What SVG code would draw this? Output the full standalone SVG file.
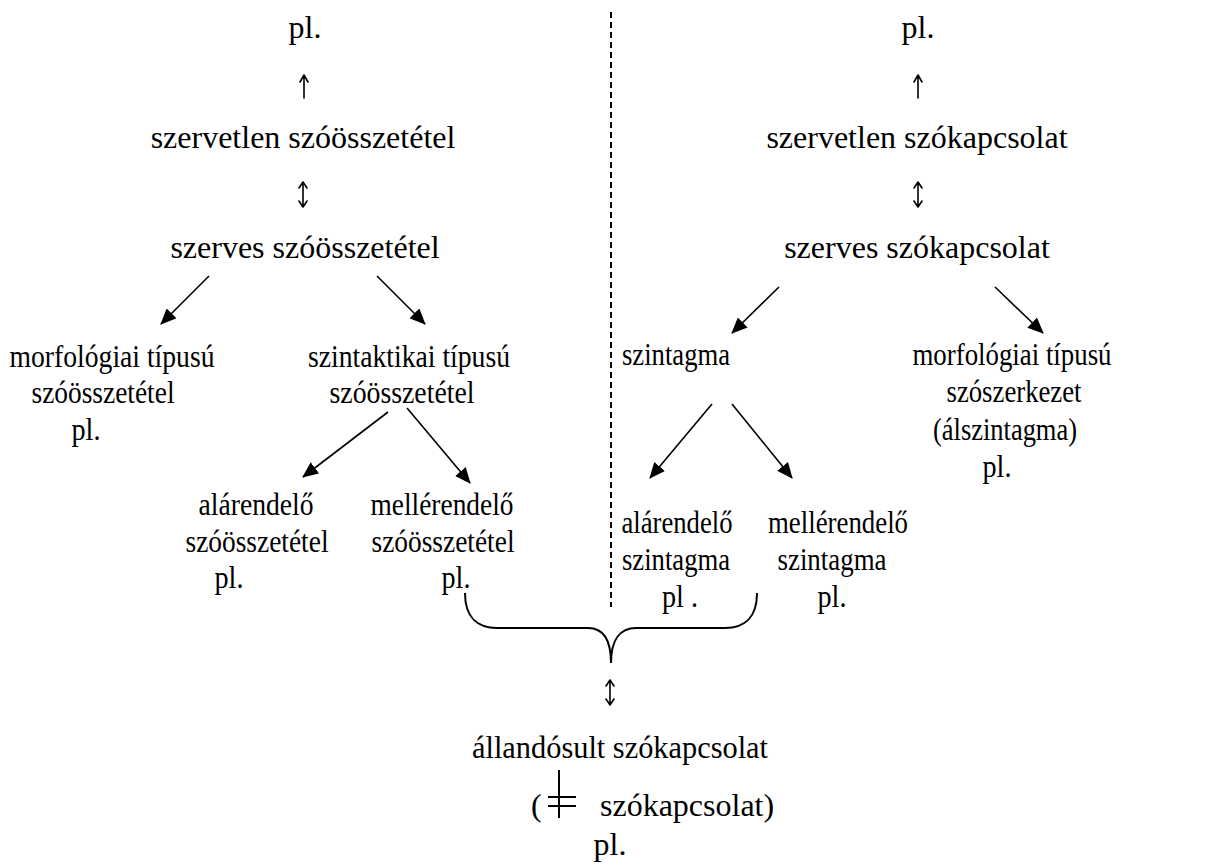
<svg xmlns="http://www.w3.org/2000/svg" width="1219" height="866" viewBox="0 0 1219 866">
<style>
text{font-family:"Liberation Serif","Times New Roman",serif;font-size:32px;fill:#000}
.m{text-anchor:middle}
.br{stroke:#000;stroke-width:2;fill:none}
.ua{stroke:#000;stroke-width:1.6;fill:none;stroke-linecap:round;stroke-linejoin:round}
</style>
<defs>
<marker id="ah" viewBox="0 0 16 14" refX="15" refY="7" markerWidth="16" markerHeight="14" orient="auto" markerUnits="userSpaceOnUse">
<path d="M0,0 L16,7 L0,14 z" fill="#000"/>
</marker>
<path id="up" d="M0,0 V-23 M-4,-16 L0,-23 L4,-16"/>
<path id="updown" d="M0,0 V-25 M-4,-19 L0,-25 L4,-19 M-4,-6 L0,0 L4,-6"/>
</defs>
<rect width="1219" height="866" fill="#fff"/>
<g id="divider"><line x1="611" y1="12" x2="611" y2="607" stroke="#000" stroke-width="2" stroke-dasharray="6 4"/></g>
<g id="left-top">
<text class="m" x="305" y="38">pl.</text>
<use href="#up" class="ua" x="304" y="98"/>
<text class="m" x="303" y="148">szervetlen szóösszetétel</text>
<use href="#updown" class="ua" x="303" y="207"/>
<text class="m" x="305" y="258">szerves szóösszetétel</text>
</g>
<g id="left-morf">
<text class="m" x="112" y="367" textLength="205" lengthAdjust="spacingAndGlyphs">morfológiai típusú</text>
<text class="m" x="103" y="403" textLength="143" lengthAdjust="spacingAndGlyphs">szóösszetétel</text>
<text class="m" x="86" y="440" textLength="29" lengthAdjust="spacingAndGlyphs">pl.</text>
</g>
<g id="left-szint">
<text class="m" x="409" y="367" textLength="202" lengthAdjust="spacingAndGlyphs">szintaktikai típusú</text>
<text class="m" x="402" y="403" textLength="145" lengthAdjust="spacingAndGlyphs">szóösszetétel</text>
</g>
<g id="left-alar">
<text class="m" x="256" y="515" textLength="115" lengthAdjust="spacingAndGlyphs">alárendelő</text>
<text class="m" x="257" y="552" textLength="143" lengthAdjust="spacingAndGlyphs">szóösszetétel</text>
<text class="m" x="229" y="588" textLength="29" lengthAdjust="spacingAndGlyphs">pl.</text>
</g>
<g id="left-meller">
<text class="m" x="442" y="515" textLength="143" lengthAdjust="spacingAndGlyphs">mellérendelő</text>
<text class="m" x="443" y="552" textLength="143" lengthAdjust="spacingAndGlyphs">szóösszetétel</text>
<text class="m" x="456" y="588" textLength="29" lengthAdjust="spacingAndGlyphs">pl.</text>
</g>
<g id="right-top">
<text class="m" x="918" y="38">pl.</text>
<use href="#up" class="ua" x="918" y="98"/>
<text class="m" x="917" y="148">szervetlen szókapcsolat</text>
<use href="#updown" class="ua" x="918" y="207"/>
<text class="m" x="917" y="258">szerves szókapcsolat</text>
</g>
<g id="right-szintagma"><text x="622" y="365" textLength="108" lengthAdjust="spacingAndGlyphs">szintagma</text></g>
<g id="right-morf">
<text class="m" x="1012" y="365" textLength="199" lengthAdjust="spacingAndGlyphs">morfológiai típusú</text>
<text class="m" x="1014" y="402" textLength="135" lengthAdjust="spacingAndGlyphs">szószerkezet</text>
<text class="m" x="1005" y="440" textLength="144" lengthAdjust="spacingAndGlyphs">(álszintagma)</text>
<text class="m" x="997" y="477" textLength="29" lengthAdjust="spacingAndGlyphs">pl.</text>
</g>
<g id="right-alar">
<text class="m" x="677" y="533" textLength="111" lengthAdjust="spacingAndGlyphs">alárendelő</text>
<text class="m" x="676" y="570" textLength="108" lengthAdjust="spacingAndGlyphs">szintagma</text>
<text class="m" x="680" y="607" textLength="36" lengthAdjust="spacingAndGlyphs">pl .</text>
</g>
<g id="right-meller">
<text class="m" x="838" y="533" textLength="140" lengthAdjust="spacingAndGlyphs">mellérendelő</text>
<text class="m" x="832" y="570" textLength="109" lengthAdjust="spacingAndGlyphs">szintagma</text>
<text class="m" x="832" y="607" textLength="29" lengthAdjust="spacingAndGlyphs">pl.</text>
</g>
<g id="brace">
<path class="br" d="M465,593 C465,618 478,628 497,628 L588,628 C603,628 611,640 611,663"/>
<path class="br" d="M757,593 C757,618 744,628 725,628 L636,628 C620,628 611,640 611,663"/>
</g>
<g id="bottom">
<use href="#updown" class="ua" x="610" y="705"/>
<text class="m" x="620" y="758" textLength="296" lengthAdjust="spacingAndGlyphs">állandósult szókapcsolat</text>
<text x="531" y="816">(</text>
<g stroke="#000" stroke-width="2"><line x1="559" y1="770" x2="559" y2="818"/><line x1="548" y1="797" x2="576" y2="797"/><line x1="548" y1="806" x2="576" y2="806"/></g>
<text x="600" y="816">szókapcsolat)</text>
<text class="m" x="610" y="855">pl.</text>
</g>
<g id="connectors" stroke="#000" stroke-width="1.6" fill="none">
<line x1="209" y1="276" x2="161" y2="324" marker-end="url(#ah)"/>
<line x1="377" y1="276" x2="425" y2="324" marker-end="url(#ah)"/>
<line x1="388" y1="412" x2="303" y2="477" marker-end="url(#ah)"/>
<line x1="407" y1="408" x2="470" y2="483" marker-end="url(#ah)"/>
<line x1="779" y1="287" x2="732" y2="333" marker-end="url(#ah)"/>
<line x1="995" y1="287" x2="1043" y2="333" marker-end="url(#ah)"/>
<line x1="712" y1="404" x2="650" y2="478" marker-end="url(#ah)"/>
<line x1="732" y1="404" x2="792" y2="478" marker-end="url(#ah)"/>
</g>
</svg>
